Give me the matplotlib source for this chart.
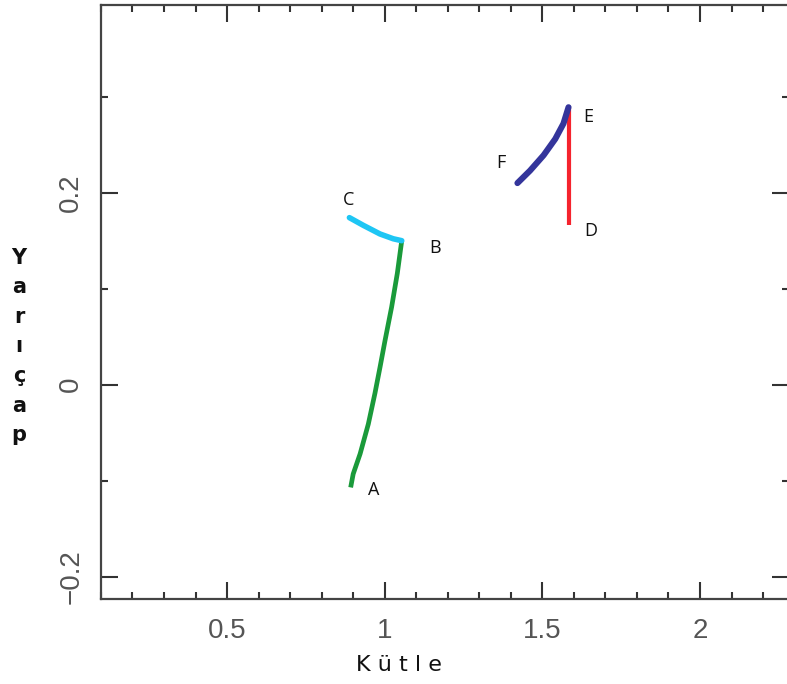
import matplotlib
matplotlib.use("Agg")
import matplotlib.pyplot as plt
from matplotlib.ticker import MultipleLocator

# Track segments (mass, radius)
ab_mass = [0.892, 0.900, 0.922, 0.948, 0.969, 0.985, 1.001, 1.022, 1.040, 1.054]
ab_radius = [-0.107, -0.093, -0.072, -0.041, -0.009, 0.018, 0.046, 0.081, 0.116, 0.150]

bc_mass = [1.054, 1.027, 0.985, 0.932, 0.888]
bc_radius = [0.150, 0.152, 0.157, 0.166, 0.174]

de_mass = [1.583, 1.583]
de_radius = [0.166, 0.289]

ef_mass = [1.583, 1.567, 1.541, 1.504, 1.461, 1.421]
ef_radius = [0.289, 0.272, 0.256, 0.239, 0.223, 0.210]

point_labels = ["A", "B", "C", "D", "E", "F"]
label_mass = [0.964, 1.160, 0.884, 1.652, 1.646, 1.369]
label_radius = [-0.110, 0.142, 0.192, 0.160, 0.279, 0.231]

xlabel = "K ü t l e"
ylabel_letters = list("Yarıçap")

fig = plt.figure(figsize=(7.87, 6.84), dpi=100)
ax = fig.add_axes([0.1283, 0.1243, 0.8745, 0.8684])

ax.plot(ab_mass, ab_radius, color="#1a9a3a", lw=3.4, solid_capstyle="butt", solid_joinstyle="round")
ax.plot(bc_mass, bc_radius, color="#1ec6f4", lw=4.0, solid_capstyle="round", solid_joinstyle="round")
ax.plot(de_mass, de_radius, color="#f5232d", lw=3.0, solid_capstyle="butt")
ax.plot(ef_mass, ef_radius, color="#34359b", lw=4.4, solid_capstyle="round", solid_joinstyle="round")

for lab, mx, ry in zip(point_labels, label_mass, label_radius):
    ax.text(mx, ry, lab, fontsize=13, family="Open Sans", ha="center", va="center", color="#111")

ax.set_xlim(0.1, 2.283)
ax.set_ylim(-0.2232, 0.3955)

ax.xaxis.set_major_locator(MultipleLocator(0.5))
ax.xaxis.set_minor_locator(MultipleLocator(0.1))
ax.yaxis.set_major_locator(MultipleLocator(0.2))
ax.yaxis.set_minor_locator(MultipleLocator(0.1))
ax.set_xticks([0.5, 1, 1.5, 2])
ax.set_xticklabels(["0.5", "1", "1.5", "2"])
ax.set_yticks([-0.2, 0, 0.2])
ax.set_yticklabels(["\u22120.2", "0", "0.2"])

ax.tick_params(which="both", direction="in", top=True, right=True, color="#333", width=1.5)
ax.tick_params(which="major", length=12)
ax.tick_params(which="minor", length=5)
ax.tick_params(axis="x", labelsize=20, labelcolor="#555", pad=14)
ax.tick_params(axis="y", labelsize=20, labelcolor="#555", pad=12)
for t in ax.get_xticklabels() + ax.get_yticklabels():
    t.set_family("Liberation Sans")
for t in ax.get_yticklabels():
    t.set_rotation(90)
    t.set_va("center")

for s in ax.spines.values():
    s.set_color("#444")
    s.set_linewidth(1.6)

fig.text(399 / 787, 1 - 665 / 684, xlabel, fontsize=16, family="DejaVu Sans",
         ha="center", va="center", color="#111")
for i, ch in enumerate(ylabel_letters):
    fig.text(19 / 787, 1 - (258 + i * 29.5) / 684, ch, fontsize=15, fontweight="bold",
             family="DejaVu Sans", ha="center", va="center", color="#111")

fig.savefig("out.png", dpi=100)
